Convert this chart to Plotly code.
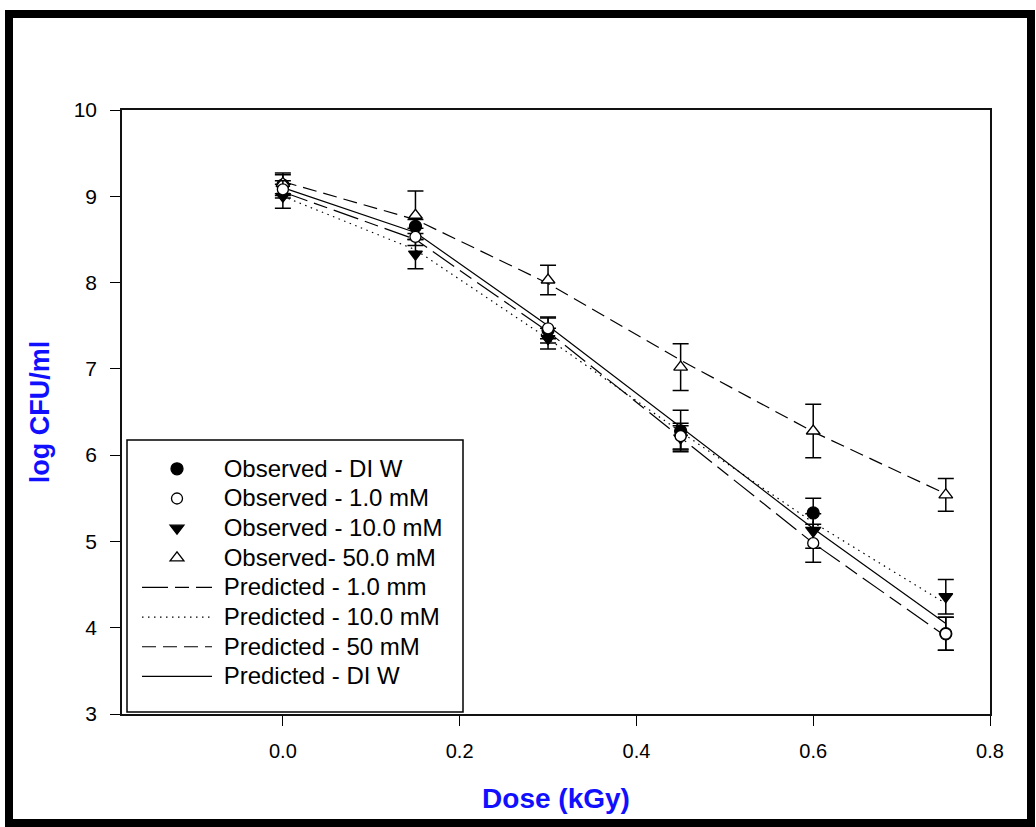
import plotly.graph_objects as go

# Survival data: dose (kGy) vs log CFU/ml
dose = [0.0, 0.15, 0.30, 0.45, 0.60, 0.75]

obs_diw = [9.13, 8.65, 7.45, 6.28, 5.33, 3.93]
err_diw = [0.12, 0.08, 0.15, 0.24, 0.17, 0.19]

obs_1mm = [9.08, 8.53, 7.47, 6.22, 4.98, 3.93]
err_1mm = [0.10, 0.10, 0.12, 0.15, 0.22, 0.19]

obs_10mm = [9.00, 8.33, 7.35, 6.20, 5.12, 4.36]
err_10mm = [0.14, 0.17, 0.12, 0.14, 0.20, 0.20]

obs_50mm = [9.15, 8.78, 8.03, 7.02, 6.28, 5.54]
err_50mm = [0.12, 0.28, 0.17, 0.27, 0.31, 0.19]

pred_1mm = [9.05, 8.50, 7.43, 6.20, 4.98, 3.90]
pred_10mm = [9.00, 8.38, 7.35, 6.27, 5.22, 4.28]
pred_50mm = [9.17, 8.73, 7.99, 7.10, 6.27, 5.55]
pred_diw = [9.10, 8.58, 7.50, 6.33, 5.15, 4.05]

x_ticks = [0.0, 0.2, 0.4, 0.6, 0.8]
y_ticks = [3, 4, 5, 6, 7, 8, 9, 10]

W, H = 1036, 827
ML, MR, MT, MB = 122, 46, 110, 113

fig = go.Figure()

err_style = dict(type="data", visible=True, color="black", thickness=1.5, width=8)


def label(text):
    # legend entries: larger glyphs than the row height font
    return '<span style="font-size:24px">\u00a0' + text + "</span>"


def observed(name, y, err, symbol, fill, size=12):
    fig.add_trace(go.Scatter(
        x=dose, y=y, name=label(name), mode="markers",
        marker=dict(symbol=symbol, size=size, color=fill,
                    line=dict(color="black", width=1.3)),
        error_y=dict(array=err, **err_style),
    ))


def predicted(name, y, dash):
    fig.add_trace(go.Scatter(
        x=dose, y=y, name=label(name), mode="lines",
        line=dict(color="black", width=1.2, dash=dash),
    ))


# lines first so the symbols sit on top
predicted("Predicted - 1.0 mm", pred_1mm, "26px,7px,14px,7px")
predicted("Predicted - 10.0 mM", pred_10mm, "1.5px,4.5px")
predicted("Predicted - 50 mM", pred_50mm, "14px,7px")
predicted("Predicted - DI W", pred_diw, "solid")

observed("Observed - DI W", obs_diw, err_diw, "circle", "black")
observed("Observed - 10.0 mM", obs_10mm, err_10mm, "triangle-down", "black")
observed("Observed- 50.0 mM", obs_50mm, err_50mm, "triangle-up", "white")
observed("Observed - 1.0 mM", obs_1mm, err_1mm, "circle", "white", size=11)

# legend order
order = ["Observed - DI W", "Observed - 1.0 mM", "Observed - 10.0 mM",
         "Observed- 50.0 mM", "Predicted - 1.0 mm", "Predicted - 10.0 mM",
         "Predicted - 50 mM", "Predicted - DI W"]
order = [label(n) for n in order]
for tr in fig.data:
    tr.legendrank = order.index(tr.name) + 1


def px(X):
    return (X - ML) / (W - ML - MR)


def py(Y):
    return 1 - (Y - MT) / (H - MT - MB)


blue = "#1010ff"

fig.update_layout(
    width=W, height=H,
    margin=dict(l=ML, r=MR, t=MT, b=MB),
    paper_bgcolor="white", plot_bgcolor="white",
    font=dict(family="Liberation Sans, Arial, sans-serif", color="black"),
    showlegend=True,
    legend=dict(
        x=px(137), y=py(449), xanchor="left", yanchor="top",
        bgcolor="rgba(0,0,0,0)", borderwidth=0,
        font=dict(size=20.5, family="Liberation Sans, Arial, sans-serif"),
        itemwidth=70, tracegroupgap=0,
    ),
    xaxis=dict(
        range=[-0.182, 0.8], tickvals=x_ticks,
        ticktext=[f"{v:.1f}" for v in x_ticks],
        showgrid=False, zeroline=False,
        showline=True, linecolor="#111111", linewidth=1.5, mirror=True,
        ticks="outside", ticklen=10, tickwidth=1.2, tickcolor="black",
        ticklabelstandoff=8,
        tickfont=dict(size=20),
        title=dict(text="<b>Dose (kGy)</b>", standoff=28,
                   font=dict(size=28, color=blue)),
    ),
    yaxis=dict(
        range=[3, 10], tickvals=y_ticks,
        showgrid=False, zeroline=False,
        showline=True, linecolor="#111111", linewidth=1.5, mirror=True,
        ticks="outside", ticklen=10, tickwidth=1.2, tickcolor="black",
        ticklabelstandoff=9,
        tickfont=dict(size=21),
        title=dict(text="<b>log CFU/ml</b>", standoff=16,
                   font=dict(size=27, color=blue)),
    ),
    shapes=[
        # legend frame
        dict(type="rect", xref="paper", yref="paper",
             x0=px(127), x1=px(463), y0=py(440), y1=py(712),
             line=dict(color="black", width=1.5), fillcolor="white",
             layer="below"),
        # outer frame of the figure
        dict(type="rect", xref="paper", yref="paper",
             x0=px(9), x1=px(1031), y0=py(14), y1=py(823),
             line=dict(color="black", width=8), fillcolor="rgba(0,0,0,0)",
             layer="above"),
    ],
)

fig.write_html("out.html")
